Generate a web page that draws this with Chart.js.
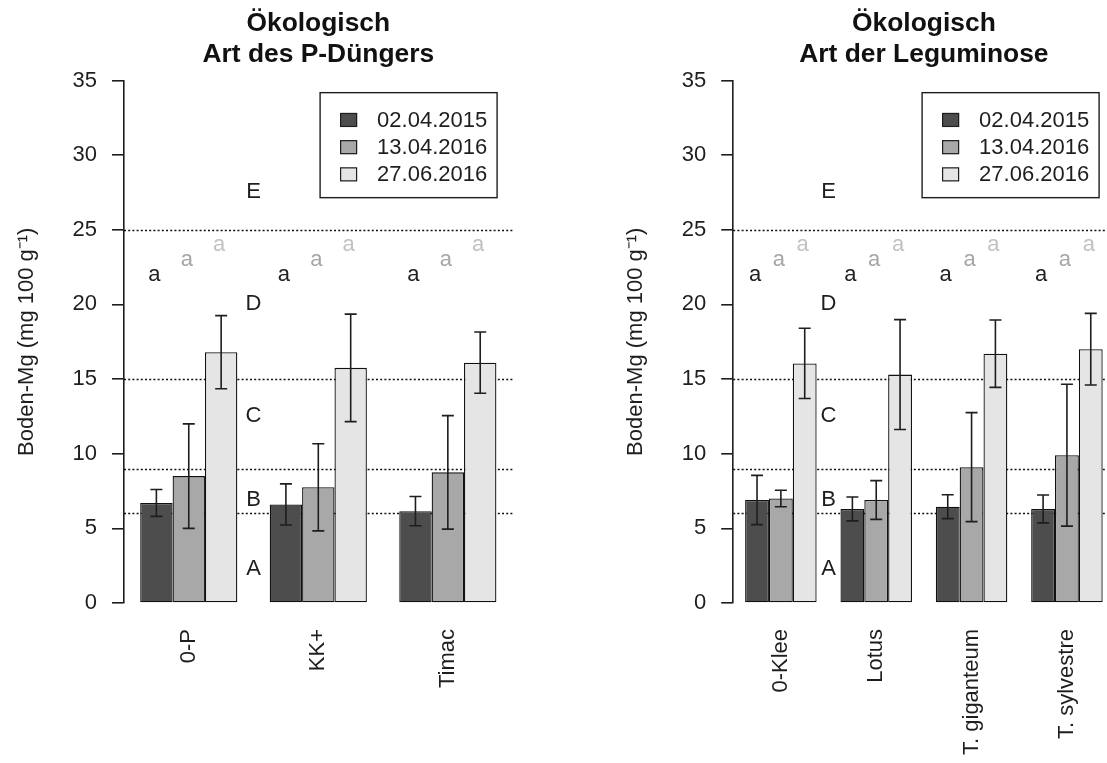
<!DOCTYPE html>
<html>
<head>
<meta charset="utf-8">
<script src="https://cdn.jsdelivr.net/npm/chart.js@4.4.1/dist/chart.umd.min.js"></script>
<style>
  html, body { margin: 0; padding: 0; background: #fff; overflow: hidden; }
  #wrap { position: relative; width: 1107px; height: 763px; overflow: hidden; }
  canvas { position: absolute; top: 0; }
  #left { left: 0; }
  #right { left: 560px; }
</style>
</head>
<body>
<div id="wrap">
  <canvas id="left" width="560" height="763"></canvas>
  <canvas id="right" width="560" height="763"></canvas>
</div>
<script>
// Dates (series)
const dates = ["02.04.2015", "13.04.2016", "27.06.2016"];
const barColors = ["#4d4d4d", "#a8a8a8", "#e5e5e5"];
const sigColors = ["#222222", "#a6a6a6", "#c2c2c2"];

// Left panel: Art des P-Düngers
const dungerCats = ["0-P", "KK+", "Timac"];
const dungerMean2015 = [6.7, 6.6, 6.15];
const dungerSd2015 = [0.9, 1.38, 0.98];
const dungerMean2016a = [8.5, 7.75, 8.75];
const dungerSd2016a = [3.5, 2.92, 3.8];
const dungerMean2016b = [16.8, 15.75, 16.1];
const dungerSd2016b = [2.45, 3.6, 2.05];

// Right panel: Art der Leguminose
const legCats = ["0-Klee", "Lotus", "T. giganteum", "T. sylvestre"];
const legMean2015 = [6.9, 6.3, 6.45, 6.3];
const legSd2015 = [1.65, 0.8, 0.8, 0.93];
const legMean2016a = [7.0, 6.9, 9.1, 9.9];
const legSd2016a = [0.55, 1.3, 3.65, 4.75];
const legMean2016b = [16.05, 15.3, 16.7, 17.0];
const legSd2016b = [2.35, 3.68, 2.26, 2.4];

// significance letters (same for every group) and their heights
const sigLetters = ["a", "a", "a"];
const sigHeights = [22.0, 23.0, 24.0];

// Gehaltsklassen
const classBounds = [6, 9, 15, 25];
const classNames = ["A", "B", "C", "D", "E"];
const classLabelY = [2.3, 6.9, 12.5, 20, 27.5];

const yTicksMin = 0, yTicksMax = 35, yTicksStep = 5;
const yTitle = "Boden-Mg (mg 100 g\u207B\u00B9)";

Chart.defaults.font.family = "'Liberation Sans', Arial, sans-serif";
Chart.defaults.color = "#222";

const ink = "#1e1e1e";
const fontMain = "22px 'Liberation Sans', Arial, sans-serif";

// dotted class boundaries, behind the bars
const classLines = {
  id: "classLines",
  beforeDatasetsDraw(chart) {
    const {ctx, chartArea, scales: {y}} = chart;
    ctx.save();
    ctx.strokeStyle = "#111";
    ctx.lineWidth = 1.5;
    ctx.setLineDash([2, 2.2]);
    classBounds.forEach(v => {
      const py = Math.round(y.getPixelForValue(v)) + 0.5;
      ctx.beginPath();
      ctx.moveTo(chartArea.left, py);
      ctx.lineTo(chartArea.right, py);
      ctx.stroke();
    });
    ctx.restore();
  }
};

// error bars, significance letters, class letters, legend box
const extras = {
  id: "extras",
  afterDatasetsDraw(chart) {
    const {ctx, scales: {x, y}} = chart;
    ctx.save();
    ctx.strokeStyle = ink;
    ctx.lineWidth = 1.6;
    chart.data.datasets.forEach((ds, i) => {
      const meta = chart.getDatasetMeta(i);
      meta.data.forEach((bar, j) => {
        const hi = y.getPixelForValue(ds.data[j] + ds.sd[j]);
        const lo = y.getPixelForValue(ds.data[j] - ds.sd[j]);
        ctx.beginPath();
        ctx.moveTo(bar.x, hi); ctx.lineTo(bar.x, lo);
        ctx.moveTo(bar.x - 6, hi); ctx.lineTo(bar.x + 6, hi);
        ctx.moveTo(bar.x - 6, lo); ctx.lineTo(bar.x + 6, lo);
        ctx.stroke();
        // letter
        ctx.fillStyle = sigColors[i];
        ctx.font = fontMain;
        ctx.textAlign = "center";
        ctx.textBaseline = "middle";
        ctx.fillText(sigLetters[i], bar.x - 2, y.getPixelForValue(sigHeights[i]));
      });
    });

    // class letters between first and second group
    const cx = x.getPixelForValue(0.5);
    ctx.fillStyle = ink;
    ctx.font = fontMain;
    ctx.textAlign = "center";
    ctx.textBaseline = "middle";
    classNames.forEach((c, k) => {
      ctx.fillText(c, cx, y.getPixelForValue(classLabelY[k]));
    });

    // legend
    const area = chart.chartArea;
    const bw = 177, bh = 105;
    const bx = area.right - 15.5 - bw;
    const by = area.top + 12.2;
    ctx.lineWidth = 1.4;
    ctx.strokeStyle = ink;
    ctx.strokeRect(bx, by, bw, bh);
    chart.data.datasets.forEach((ds, i) => {
      const ry = by + 27.3 + i * 27.2;
      ctx.fillStyle = ds.backgroundColor;
      ctx.fillRect(bx + 20, ry - 7, 17, 14);
      ctx.lineWidth = 1.2;
      ctx.strokeRect(bx + 20.5, ry - 6.5, 16, 13);
      ctx.fillStyle = ink;
      ctx.textAlign = "left";
      ctx.fillText(ds.label, bx + 57, ry + 1);
    });
    ctx.restore();
  }
};

function makePanel(id, titleLines, cats, means, sds, padLeft, padRight) {
  return new Chart(document.getElementById(id), {
    type: "bar",
    data: {
      labels: cats,
      datasets: dates.map((d, i) => ({
        label: d,
        data: means[i],
        sd: sds[i],
        backgroundColor: barColors[i],
        borderColor: "#111",
        borderWidth: 1.3,
        borderSkipped: false,
        categoryPercentage: 0.75,
        barPercentage: 1.0
      }))
    },
    options: {
      responsive: false,
      animation: false,
      layout: { padding: { left: padLeft, right: padRight, top: 0, bottom: 0 } },
      plugins: {
        legend: { display: false },
        tooltip: { enabled: false },
        title: {
          display: true,
          text: titleLines,
          fullSize: false,
          color: "#111",
          font: { size: 26.4, weight: "bold", lineHeight: 1.2 },
          padding: { top: 7.5, bottom: 9.6 }
        }
      },
      scales: {
        x: {
          grid: { display: false, drawTicks: false },
          border: { display: false },
          ticks: {
            autoSkip: false,
            minRotation: 90,
            maxRotation: 90,
            padding: 26,
            color: ink,
            font: { size: 22 }
          },
          afterFit: s => { s.height = 160; }
        },
        y: {
          min: yTicksMin,
          max: yTicksMax,
          ticks: { stepSize: yTicksStep, padding: 15, color: ink, font: { size: 22 } },
          grid: { drawOnChartArea: false, drawTicks: true, tickLength: 12, color: ink, lineWidth: 1.6 },
          border: { display: true, color: ink, width: 1.6 },
          title: {
            display: true,
            text: yTitle,
            color: ink,
            font: { size: 22 },
            padding: { top: 13.8, bottom: 0 }
          },
          afterFit: s => { s.width = 124; }
        }
      }
    },
    plugins: [classLines, extras]
  });
}

makePanel("left", ["Ökologisch", "Art des P-Düngers"], dungerCats,
  [dungerMean2015, dungerMean2016a, dungerMean2016b],
  [dungerSd2015, dungerSd2016a, dungerSd2016b], 0, 47.4);

makePanel("right", ["Ökologisch", "Art der Leguminose"], legCats,
  [legMean2015, legMean2016a, legMean2016b],
  [legSd2015, legSd2016a, legSd2016b], 49.2, 1.2);
</script>
</body>
</html>
